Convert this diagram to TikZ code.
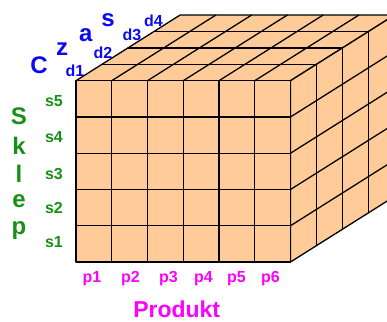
\documentclass[tikz,border=0pt]{standalone}
\usepackage{fontspec}
\setmainfont{Liberation Sans}
\definecolor{peach}{HTML}{FFCC99}
\definecolor{cblue}{HTML}{0A0AF5}
\definecolor{cgreen}{HTML}{189018}
\definecolor{cmag}{HTML}{FF00FF}
\begin{document}
\begin{tikzpicture}[x=1pt,y=-1pt,
  edge/.style={line width=1.3pt, line join=round, line cap=round},
  face/.style={fill=peach, draw=black, line width=1.3pt, line join=round},
  lab/.style={inner sep=0pt, font=\bfseries},
  big/.style={lab, font=\fontsize{24}{24}\selectfont\bfseries},
  small/.style={lab, font=\fontsize{16}{16}\selectfont\bfseries},
  czas/.style={big, text=cblue},
  dlab/.style={small, text=cblue},
  sklep/.style={big, text=cgreen},
  slab/.style={small, text=cgreen},
  plab/.style={small, text=cmag}]
\useasboundingbox (0,0) rectangle (387,321);
\begin{scope}
\clip (0,0) rectangle (387,321);
\def\xa{76}
\def\xb{290.5}
\def\ya{80.7}
\def\yb{262}
\def\dx{26}
\def\dy{-16.4}
\pgfmathsetmacro{\cw}{(\xb-\xa)/6}
\pgfmathsetmacro{\rh}{(\yb-\ya)/5}
% faces
\path[face] (\xa,\ya) -- (\xb,\ya) -- ({\xb+4*\dx},{\ya+4*\dy}) -- ({\xa+4*\dx},{\ya+4*\dy}) -- cycle;
\path[face] (\xb,\ya) -- (\xb,\yb) -- ({\xb+4*\dx},{\yb+4*\dy}) -- ({\xb+4*\dx},{\ya+4*\dy}) -- cycle;
\path[face] (\xa,\ya) rectangle (\xb,\yb);
% front grid
\foreach \i in {1,...,5} {
  \draw[edge] ({\xa+\i*\cw},\ya) -- ({\xa+\i*\cw},\yb);
}
\foreach \j in {1,...,4} {
  \draw[edge] (\xa,{\ya+\j*\rh}) -- (\xb,{\ya+\j*\rh});
}
% top grid
\foreach \k in {1,...,3} {
  \draw[edge] ({\xa+\k*\dx},{\ya+\k*\dy}) -- ({\xb+\k*\dx},{\ya+\k*\dy});
}
\foreach \i in {1,...,5} {
  \draw[edge] ({\xa+\i*\cw},\ya) -- ({\xa+\i*\cw+4*\dx},{\ya+4*\dy});
}
% right grid
\foreach \k in {1,...,3} {
  \draw[edge] ({\xb+\k*\dx},{\ya+\k*\dy}) -- ({\xb+\k*\dx},{\yb+\k*\dy});
}
\foreach \j in {1,...,4} {
  \draw[edge] (\xb,{\ya+\j*\rh}) -- ({\xb+4*\dx},{\ya+\j*\rh+4*\dy});
}
\end{scope}
% Czas
\node[czas] (tC) at (39,65) {C};
\node[czas] (tz) at (62,49.5) {z};
\node[czas] (ta) at (85.7,35) {a};
\node[czas] (ts) at (108,19.7) {s};
\node[dlab] (d1) at (75,70.5) {d1};
\node[dlab] (d2) at (103,52.5) {d2};
\node[dlab] (d3) at (132,35) {d3};
\node[dlab] (d4) at (153.5,21) {d4};
% Sklep
\node[sklep] (kS) at (19,116.5) {S};
\node[sklep] (kk) at (19,145.5) {k};
\node[sklep] (kl) at (19,173.5) {l};
\node[sklep] (ke) at (19,201) {e};
\node[sklep] (kp) at (19,231) {p};
\node[slab] (s5) at (54,101) {s5};
\node[slab] (s4) at (54,137.5) {s4};
\node[slab] (s3) at (54,174.5) {s3};
\node[slab] (s2) at (54,207.5) {s2};
\node[slab] (s1) at (54,242.5) {s1};
% Produkt
\node[plab] (p1) at (92,278.5) {p1};
\node[plab] (p2) at (130.5,278.5) {p2};
\node[plab] (p3) at (168.5,278.5) {p3};
\node[plab] (p4) at (203.5,278.5) {p4};
\node[plab] (p5) at (236.5,278.5) {p5};
\node[plab] (p6) at (270.5,278.5) {p6};
\node[lab, font=\fontsize{23}{23}\selectfont\bfseries, text=cmag] (prod) at (176.7,309.3) {Produkt};
\end{tikzpicture}
\end{document}
